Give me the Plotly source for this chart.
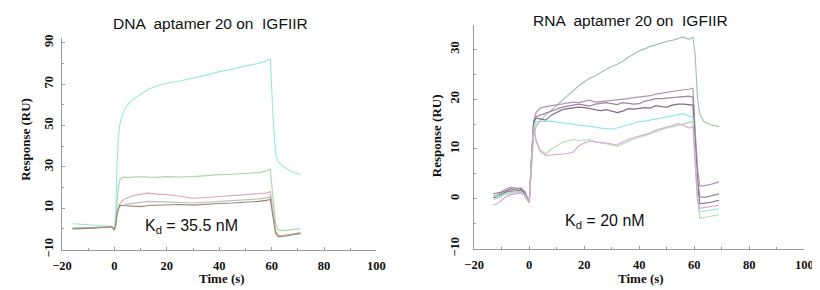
import plotly.graph_objects as go

# ---------------- DATA ----------------
# Left panel: DNA aptamer 20 on IGFIIR
dna_time = [-16, -12, -8, -4, -1, 0, 0.5, 1, 1.5, 2, 3, 4, 5, 7, 10, 13, 16, 20, 25, 30,
            35, 40, 45, 50, 55, 58, 59.5, 60.5, 61.5, 62.5, 64, 66, 68, 71]
dna_cyan = [2.5, 2.2, 1.8, 1.5, 1.3, -0.8, 8, 30, 44, 50, 55, 58, 60, 62.5, 65, 67.5, 69, 70.5, 71.5, 72.8,
            74.3, 76, 77.2, 78.8, 80, 81.3, 82, 55, 36, 32.5, 30.5, 28.8, 27.5, 26.3]
dna_green = [0.5, 0.6, 0.5, 0.9, 1.2, -0.5, 2, 12, 20, 23.5, 24.8, 25, 24.8, 25, 25.2, 25, 24.9, 25.3, 25.1, 25.3,
             25.8, 26.2, 26.4, 26.8, 27.2, 28, 29, 15, 3, -0.5, -0.8, -0.6, -0.5, 0]
dna_pink = [0.1, 0.3, 0.4, 0.8, 1.1, -0.5, 2, 7, 10.5, 12, 13.5, 14.5, 15, 16, 16.8, 17.3, 16.8, 16.6, 15.8, 14.8,
            15.2, 15.6, 16, 16.3, 16.8, 17.3, 18, 8, -1, -3, -3.2, -2.8, -2.3, -1.8]
dna_gray = [0.2, 0.2, 0.5, 0.8, 1.0, -0.5, 2, 7, 10, 11, 11.5, 11.8, 12, 12.4, 12.8, 13.3, 13.2, 13, 12.8, 12.5,
            12.9, 13.3, 13.5, 13.8, 14.5, 15, 15.5, 7, -1.5, -3.2, -3.4, -3.0, -2.5, -2.0]
dna_brown = [0.0, 0.1, 0.4, 0.7, 1.0, -0.5, 2, 7, 10, 11.5, 11.3, 11.2, 11, 10.9, 10.8, 11.3, 11.5, 11.7, 11.8, 11.5,
             12, 12.3, 12.5, 12.8, 13.3, 13.8, 14.2, 6, -2, -3.8, -3.7, -3.3, -2.8, -2.3]

# Right panel: RNA aptamer 20 on IGFIIR
rna_time = [-13, -11, -9, -7, -5, -3, -1.5, 0, 0.8, 1.6, 2.5, 4, 6, 8, 10, 12, 14, 16, 18, 20,
            22, 24, 26, 28, 30, 32, 34, 36, 38, 40, 42, 44, 46, 48, 50, 52, 54, 56, 58,
            59.5, 60.3, 61.2, 62, 63.5, 66, 69]
rna_graygreen = [0.5, 0.8, 1.3, 2.0, 1.8, 1.6, 1.0, -0.8, 6, 12.5, 14.6, 15.7, 16.8, 17.8, 18.8, 19.7, 20.8, 21.9, 22.7, 23.5,
                 24.2, 24.7, 25.3, 26, 26.6, 27, 27.6, 28.4, 29, 29.7, 30.1, 30.6, 30.9, 31.3, 31.6, 31.8, 32.1, 32.5, 32.0,
                 32.4, 29, 20, 17, 15.5, 14.8, 14.5]
rna_purple1 = [0.3, 0.9, 1.8, 2.3, 2.2, 2.0, 1.2, -0.8, 8, 15.5, 17.3, 18.2, 18.5, 18.7, 18.9, 19.1, 19.2, 19.4, 19.3, 19.6,
               19.8, 19.4, 19.5, 19.6, 19.7, 19.8, 20.0, 20.1, 20.3, 20.4, 20.6, 20.7, 21.0, 21.2, 21.3, 21.5, 21.8, 21.9, 22.0,
               22.2, 14, 6, 2.6, 2.6, 2.9, 3.4]
rna_purple2 = [1.0, 1.2, 1.5, 2.0, 1.9, 2.2, 1.4, -0.8, 8, 15, 16.5, 16.8, 17.2, 17.7, 18.1, 18.4, 18.6, 18.8, 19.0, 18.8,
               18.6, 19.0, 19.1, 19.3, 19.1, 18.9, 19.3, 19.2, 19.0, 19.1, 19.6, 19.8, 20.1, 20.1, 20.2, 20.3, 20.4, 20.5, 20.6,
               20.4, 12, 4, 0.4, 0.3, 0.6, 1.0]
rna_purple3 = [0.2, 0.5, 1.2, 1.6, 1.5, 1.8, 0.9, -0.8, 8, 15.5, 16.2, 16.0, 15.8, 16.8, 17.4, 17.9, 18.1, 18.3, 18.4, 18.3,
               18.1, 17.8, 17.7, 17.9, 17.6, 17.3, 17.6, 18.1, 18.0, 18.1, 18.3, 18.2, 18.7, 18.5, 18.4, 18.8, 19.0, 19.0, 18.9,
               18.8, 11, 3, -1.0, -0.9, -0.7, -0.3]
rna_cyan = [0.6, 0.4, 1.0, 1.3, 1.2, 1.4, 0.8, -0.8, 7, 13.5, 15.5, 15.5, 15.6, 15.6, 15.4, 15.3, 15.2, 15.0, 14.8, 14.7,
            14.5, 14.4, 14.2, 14.1, 14.0, 14.2, 14.5, 14.8, 15.2, 15.5, 15.6, 15.8, 16.0, 16.2, 16.4, 16.6, 16.9, 17.1, 16.6,
            16.4, 9, 1, -2.6, -2.5, -2.3, -2.0]
rna_lightgreen = [-0.2, 0.2, 0.8, 1.2, 1.5, 1.3, 0.6, -0.8, 7, 14.5, 11.8, 9.8, 9.0, 10.0, 10.6, 11.3, 11.6, 11.9, 11.7, 11.8,
                  11.9, 11.5, 11.3, 11.0, 10.8, 10.5, 11.0, 11.6, 12.0, 12.3, 12.7, 13.0, 13.4, 13.8, 14.2, 14.5, 14.8, 15.0, 15.3,
                  15.5, 8, 0, -3.9, -3.8, -3.5, -3.2]
rna_pink = [-1.3, -0.8, 0.2, 0.8, 1.0, 1.2, 0.5, -0.8, 7, 14.5, 11.5, 9.5, 8.7, 8.8, 8.9, 9.0, 9.1, 9.4, 10.6, 11.2,
            11.6, 11.4, 11.2, 11.2, 11.0, 10.8, 11.4, 11.9, 12.3, 12.6, 12.9, 13.2, 13.8, 14.1, 14.3, 14.7, 15.1, 14.8, 14.2,
            14.5, 7, -0.5, -1.9, -1.8, -1.6, -1.3]

x_ticks = [-20, 0, 20, 40, 60, 80, 100]
dna_y_ticks = [-10, 10, 30, 50, 70, 90]
rna_y_ticks = [-10, 0, 10, 20, 30]

dna_series = [
    (dna_cyan, "#98EADC"),
    (dna_green, "#AAD8A6"),
    (dna_pink, "#E2A8B6"),
    (dna_gray, "#BBBDBB"),
    (dna_brown, "#9A8A72"),
]
rna_series = [
    (rna_graygreen, "#A0C2A8"),
    (rna_purple1, "#B096B0"),
    (rna_purple2, "#9F849F"),
    (rna_purple3, "#866A86"),
    (rna_cyan, "#98E6E6"),
    (rna_lightgreen, "#B0DEB0"),
    (rna_pink, "#DDA4D0"),
]

# ---------------- FIGURE ----------------
W, H = 820, 290
fig = go.Figure()

for ys, col in dna_series:
    fig.add_trace(go.Scatter(x=dna_time, y=ys, mode="lines", line=dict(color=col, width=1.15),
                             xaxis="x", yaxis="y", showlegend=False, hoverinfo="skip"))
for ys, col in rna_series:
    fig.add_trace(go.Scatter(x=rna_time, y=ys, mode="lines", line=dict(color=col, width=1.15),
                             xaxis="x2", yaxis="y2", showlegend=False, hoverinfo="skip"))

tick_font = dict(family="Liberation Serif, Times New Roman, serif", size=12.5, color="#111", weight="bold")
axis_common = dict(showline=True, linecolor="#9A9A9A", linewidth=1, showgrid=False, zeroline=False,
                   ticks="inside", ticklen=3, tickcolor="#9A9A9A", tickfont=tick_font, fixedrange=True)

def px_x(p):
    return p / W

def px_y(p):
    return 1 - p / H

fig.update_layout(
    width=W, height=H,
    margin=dict(l=0, r=0, t=0, b=0),
    paper_bgcolor="white", plot_bgcolor="white",
    xaxis=dict(domain=[px_x(45), px_x(367)], range=[-20, 100], tickvals=x_ticks, anchor="y",
               minor=dict(dtick=10, tick0=0, ticks="inside", ticklen=2, tickcolor="#9A9A9A"),
               ticklabelstandoff=4, **axis_common),
    yaxis=dict(domain=[px_y(248), px_y(28)], range=[-10, 92.3], tickvals=dna_y_ticks, anchor="x",
               tickangle=-90, ticklabelstandoff=3,
               minor=dict(dtick=10, tick0=0, ticks="inside", ticklen=2, tickcolor="#9A9A9A"),
               **axis_common),
    xaxis2=dict(domain=[px_x(467), px_x(805)], range=[-20, 100], tickvals=x_ticks, anchor="y2",
                minor=dict(dtick=10, tick0=0, ticks="inside", ticklen=2, tickcolor="#9A9A9A"),
                ticklabelstandoff=4, **axis_common),
    yaxis2=dict(domain=[px_y(247), px_y(15)], range=[-10, 34.8], tickvals=rna_y_ticks, anchor="x2",
                tickangle=-90, ticklabelstandoff=9,
                minor=dict(dtick=5, tick0=0, ticks="inside", ticklen=2, tickcolor="#9A9A9A"),
                **axis_common),
)

title_font = dict(family="Liberation Sans, Arial, sans-serif", size=15.5, color="#111")
label_font = dict(family="Liberation Serif, Times New Roman, serif", size=13, color="#111", weight="bold")
kd_font = dict(family="Liberation Sans, Arial, sans-serif", size=16, color="#111")

annotations = [
    dict(text="DNA  aptamer 20 on  IGFIIR", x=px_x(197.5), y=px_y(13), font=title_font),
    dict(text="RNA  aptamer 20 on  IGFIIR", x=px_x(627.5), y=px_y(10), font=title_font),
    dict(text="Response (RU)", x=px_x(8), y=px_y(133), textangle=-90, font=label_font),
    dict(text="Response (RU)", x=px_x(428), y=px_y(130), textangle=-90, font=label_font),
    dict(text="Time (s)", x=px_x(209), y=px_y(278), font=label_font),
    dict(text="Time (s)", x=px_x(638), y=px_y(278), font=label_font),
    dict(text="K<sub>d</sub> = 35.5 nM", x=px_x(178), y=px_y(224), font=kd_font),
    dict(text="K<sub>d</sub> = 20 nM", x=px_x(601), y=px_y(219), font=kd_font),
]
for a in annotations:
    a.update(xref="paper", yref="paper", showarrow=False, xanchor="center", yanchor="middle")
fig.update_layout(annotations=annotations)

fig.write_html("out.html")
